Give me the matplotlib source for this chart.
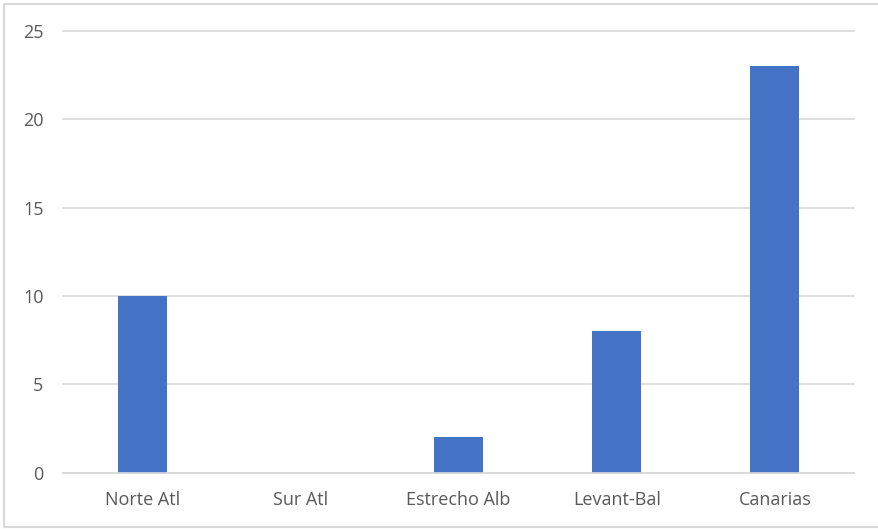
import matplotlib
matplotlib.use("Agg")
import matplotlib.pyplot as plt
from matplotlib.lines import Line2D

categories = ["Norte Atl", "Sur Atl", "Estrecho Alb", "Levant-Bal", "Canarias"]
values = [10, 0, 2, 8, 23]
y_ticks = [0, 5, 10, 15, 20, 25]

W, H = 879, 529
fig = plt.figure(figsize=(W / 100, H / 100), dpi=100)
ax = fig.add_axes([63 / W, 1 - 472.7 / H, (854 - 63) / W, (472.7 - 31) / H])

x = list(range(len(categories)))
ax.bar(x, values, width=0.31, color="#4472C4", zorder=3)

ax.set_xlim(-0.5, len(categories) - 0.5)
ax.set_ylim(0, 25)
ax.set_yticks(y_ticks)
ax.set_xticks(x)
ax.set_xticklabels(categories)

font = dict(family=["Open Sans", "DejaVu Sans"], size=13, color="#595959")
for lbl in ax.get_xticklabels() + ax.get_yticklabels():
    lbl.set_fontfamily(font["family"])
    lbl.set_fontsize(font["size"])
    lbl.set_color(font["color"])

ax.grid(axis="y", color="#d9d9d9", linewidth=1.2, zorder=0)
for gl in ax.get_ygridlines():
    gl.set_clip_on(False)
ax.tick_params(axis="both", length=0)
ax.tick_params(axis="x", pad=13)
ax.tick_params(axis="y", pad=14)
for s in ["top", "right", "left"]:
    ax.spines[s].set_visible(False)
ax.spines["bottom"].set_color("#d9d9d9")
ax.spines["bottom"].set_linewidth(1.2)
ax.spines["bottom"].set_zorder(4)

# chart frame
fc = "#d9d9d9"
fig.add_artist(Line2D([4 / W, 4 / W], [1 - 4 / H, 1 - 527 / H], color=fc, lw=1.5))
fig.add_artist(Line2D([4 / W, 1.0], [1 - 4 / H, 1 - 4 / H], color=fc, lw=1.5))
fig.add_artist(Line2D([4 / W, 1.0], [1 - 527 / H, 1 - 527 / H], color=fc, lw=1.5))

fig.savefig("out.png", dpi=100)
